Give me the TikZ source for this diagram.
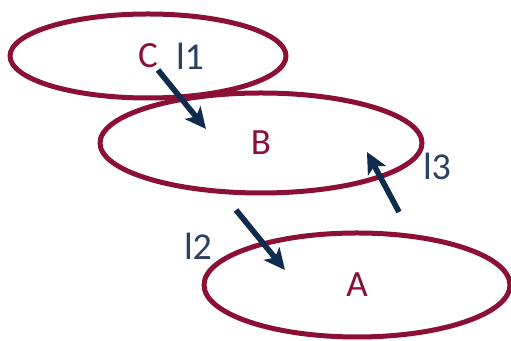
\documentclass[tikz,border=0pt]{standalone}
\usepackage{fontspec}
\setmainfont{Carlito}
\usetikzlibrary{shapes.geometric, arrows.meta}
\definecolor{ringred}{HTML}{8C0F35}
\definecolor{flownavy}{HTML}{0E2C4E}
\definecolor{labblue}{HTML}{2B4160}
\begin{document}
\begin{tikzpicture}[x=0.5pt, y=-0.5pt,
  ring/.style={ellipse, draw=ringred, line width=2.5pt, inner sep=0pt,
    text=ringred, font=\fontsize{18.5}{20}\selectfont},
  flow/.style={-{Stealth[length=10.5pt, width=10pt, inset=2.5pt]},
    line width=2.8pt, draw=flownavy},
  lab/.style={text=labblue, font=\fontsize{19}{20}\selectfont}]
  \useasboundingbox (0,0) rectangle (511,341);
  % the three sets
  \node[ring, minimum width=138pt, minimum height=42pt] (C) at (148,56) {C};
  \node[ring, minimum width=161pt, minimum height=50pt] (B) at (261,143) {B};
  \node[ring, minimum width=153pt, minimum height=52pt] (A) at (357,285) {A};
  % arrow ends
  \coordinate (c1) at (158,70);
  \coordinate (b1) at (206,129);
  \coordinate (b2) at (236,210);
  \coordinate (a1) at (285,270);
  \coordinate (a2) at (399,212);
  \coordinate (b3) at (367,152);
  \draw[flow] (c1) -- (b1);
  \draw[flow] (b2) -- (a1);
  \draw[flow] (a2) -- (b3);
  % labels
  \node[lab] (l1) at (190,56) {l1};
  \node[lab] (l2) at (198,246) {l2};
  \node[lab] (l3) at (437,166) {l3};
\end{tikzpicture}
\end{document}
